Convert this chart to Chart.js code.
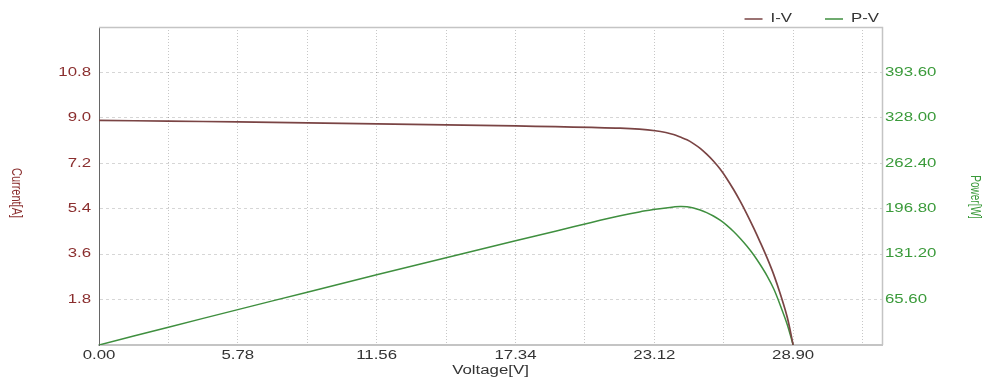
<!DOCTYPE html>
<html>
<head>
<meta charset="utf-8">
<script src="https://cdn.jsdelivr.net/npm/chart.js@4/dist/chart.umd.min.js"></script>
<style>
  html, body { margin: 0; padding: 0; background: #ffffff; }
  #wrap { width: 987px; height: 379px; position: relative; }
</style>
</head>
<body>
<div id="wrap"><canvas id="c" width="987" height="379"></canvas></div>
<script>
// ---- data ----
const voltage = [0, 2.89, 5.78, 8.67, 11.56, 14.45, 17.34, 19.0, 20.5, 21.7, 22.5, 23.16, 23.6, 23.92, 24.2, 24.48, 24.75, 25.03, 25.3, 25.58, 25.86, 26.14, 26.42, 26.7, 26.98, 27.26, 27.54, 27.82, 28.1, 28.38, 28.66, 28.9];
const current = [8.90, 8.87, 8.84, 8.80, 8.76, 8.72, 8.68, 8.65, 8.62, 8.59, 8.55, 8.49, 8.42, 8.34, 8.24, 8.13, 7.98, 7.79, 7.56, 7.29, 6.97, 6.59, 6.16, 5.69, 5.18, 4.63, 4.05, 3.44, 2.77, 1.98, 1.08, 0];
const power   = [0, 25.7, 51.1, 76.3, 101.3, 126.0, 150.5, 164.4, 177.0, 186.6, 192.2, 195.9, 198.0, 199.3, 200.1, 199.7, 197.9, 195.0, 191.2, 186.3, 180.2, 172.8, 163.9, 153.8, 142.5, 130.0, 115.5, 99.5, 80.5, 56.0, 29.0, 0];

const seriesNames = ['I-V', 'P-V'];
const xTitle = 'Voltage[V]';
const yTitle = 'Current[A]';
const y1Title = 'Power[W]';

const xMin = 0, xMax = 32.6, xStep = 2.89;
const yMin = 0, yMax = 12.6, yStep = 1.8;
const y1Min = 0, y1Max = 459.2, y1Step = 65.6;

const ivColor = '#7a4444';
const pvColor = '#3f8f3f';
const leftTickColor = '#8a2e2e';
const rightTickColor = '#3a9a3a';
const FONT = "'Liberation Sans', Arial, sans-serif";
const SX = 1.4; // the reference text is drawn wide

Chart.defaults.font.family = FONT;

// draw all chart text horizontally widened, as in the reference
const widePlugin = {
  id: 'wide',
  beforeInit(chart) {
    const ctx = chart.ctx;
    if (ctx.__wide) return;
    const of = ctx.fillText.bind(ctx);
    const om = ctx.measureText.bind(ctx);
    ctx.__fill = of;
    ctx.fillText = function (t, x, y) {
      this.save();
      this.translate(x, y);
      this.scale(SX, 1);
      of(t, 0, 0);
      this.restore();
    };
    ctx.measureText = function (t) {
      const m = om(t);
      return {
        width: m.width * SX,
        actualBoundingBoxAscent: m.actualBoundingBoxAscent,
        actualBoundingBoxDescent: m.actualBoundingBoxDescent,
        actualBoundingBoxLeft: m.actualBoundingBoxLeft * SX,
        actualBoundingBoxRight: m.actualBoundingBoxRight * SX
      };
    };
    ctx.__wide = true;
  }
};

const framePlugin = {
  id: 'frame',
  beforeDatasetsDraw(chart) {
    const {ctx, chartArea: a} = chart;
    ctx.save();
    ctx.strokeStyle = '#c4c4c4';
    ctx.lineWidth = 1.5;
    ctx.beginPath();
    ctx.moveTo(a.left, a.top + 0.5);
    ctx.lineTo(a.right + 0.5, a.top + 0.5);
    ctx.lineTo(a.right + 0.5, a.bottom);
    ctx.stroke();
    ctx.restore();
  },
  afterDraw(chart) {
    const ctx = chart.ctx;
    // vertical axis titles, reading top to bottom
    const vTitle = (text, color, size, x, y) => {
      ctx.save();
      ctx.font = size + "px " + FONT;
      ctx.fillStyle = color;
      ctx.textAlign = 'center';
      ctx.textBaseline = 'middle';
      ctx.translate(x, y);
      ctx.scale(SX, 1);
      ctx.rotate(Math.PI / 2);
      ctx.__fill(text, 0, 0);
      ctx.restore();
    };
    vTitle(yTitle, leftTickColor, 11, 16, 193);
    vTitle(y1Title, rightTickColor, 10, 975, 197);

    // legend (right aligned above plot)
    ctx.save();
    ctx.font = "12px " + FONT;
    ctx.textBaseline = 'middle';
    ctx.textAlign = 'left';
    let x = 879;
    const y = 19;
    const ds = chart.data.datasets;
    for (let i = ds.length - 1; i >= 0; i--) {
      const t = ds[i].label;
      const w = ctx.measureText(t).width;
      x -= w;
      ctx.fillStyle = '#333';
      ctx.fillText(t, x, y);
      x -= 8;
      ctx.strokeStyle = ds[i].borderColor;
      ctx.lineWidth = 1.5;
      ctx.beginPath();
      ctx.moveTo(x - 18, y);
      ctx.lineTo(x, y);
      ctx.stroke();
      x -= 18 + 33;
    }
    ctx.restore();
  }
};

new Chart(document.getElementById('c'), {
  type: 'line',
  data: {
    datasets: [
      {
        label: seriesNames[0],
        data: voltage.map((v, i) => ({x: v, y: current[i]})),
        borderColor: ivColor,
        backgroundColor: ivColor,
        borderWidth: 1.7,
        pointRadius: 0,
        tension: 0.35,
        yAxisID: 'y'
      },
      {
        label: seriesNames[1],
        data: voltage.map((v, i) => ({x: v, y: power[i]})),
        borderColor: pvColor,
        backgroundColor: pvColor,
        borderWidth: 1.5,
        pointRadius: 0,
        tension: 0.35,
        yAxisID: 'y1'
      }
    ]
  },
  options: {
    responsive: false,
    animation: false,
    layout: { padding: { top: 27, left: 0, right: 0, bottom: 0 } },
    plugins: {
      legend: { display: false },
      tooltip: { enabled: false }
    },
    scales: {
      x: {
        type: 'linear',
        min: xMin, max: xMax,
        afterFit(s) { s.height = 34; },
        ticks: {
          stepSize: xStep,
          includeBounds: false,
          autoSkip: false,
          maxRotation: 0,
          padding: 3,
          color: '#333',
          font: { size: 12 },
          callback: (v, i) => (i % 2 === 0 ? v.toFixed(2) : '')
        },
        grid: {
          drawTicks: false,
          color: 'rgba(0,0,0,0.22)',
          lineWidth: 1
        },
        border: { display: true, color: '#c4c4c4', width: 2, dash: [1, 2] },
        title: {
          display: true,
          text: xTitle,
          color: '#333',
          font: { size: 12 },
          padding: { top: 0, bottom: 1 }
        }
      },
      y: {
        type: 'linear',
        position: 'left',
        min: yMin, max: yMax,
        afterFit(s) { s.width = 99; },
        ticks: {
          stepSize: yStep,
          padding: 8,
          color: leftTickColor,
          font: { size: 12 },
          callback: (v) => (v <= 0 || v >= yMax - 0.01 ? '' : v.toFixed(1))
        },
        grid: {
          drawTicks: false,
          color: 'rgba(0,0,0,0.16)',
          lineWidth: 1
        },
        border: { display: true, color: '#666', width: 1, dash: [3, 3] },
        title: { display: false }
      },
      y1: {
        type: 'linear',
        position: 'right',
        min: y1Min, max: y1Max,
        afterFit(s) { s.width = 105; },
        ticks: {
          stepSize: y1Step,
          padding: 3,
          color: rightTickColor,
          font: { size: 12 },
          callback: (v) => (v <= 0 || v >= y1Max - 0.01 ? '' : v.toFixed(2))
        },
        grid: { display: false, drawTicks: false },
        border: { display: false },
        title: { display: false }
      }
    }
  },
  plugins: [widePlugin, framePlugin]
});
</script>
</body>
</html>
